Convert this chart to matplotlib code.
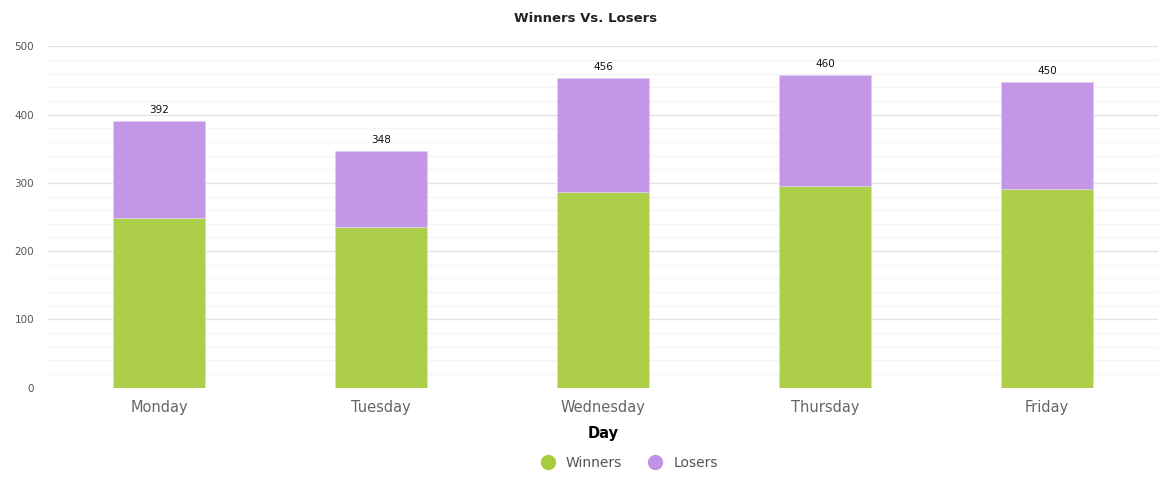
import matplotlib.pyplot as plt
from matplotlib.ticker import MultipleLocator
from matplotlib.lines import Line2D

# data
days = ["Monday", "Tuesday", "Wednesday", "Thursday", "Friday"]
winners = [248, 235, 286, 296, 291]
losers = [142, 111, 168, 162, 157]
totals = [392, 348, 456, 460, 450]

green = "#a9cc3f"
purple = "#c092e5"

fig = plt.figure(figsize=(11.68, 4.91), dpi=100)
ax = fig.add_axes([48/1168, 1-387.7/491, 1110/1168, (387.7-46.3)/491])

x = range(len(days))
ax.bar(x, winners, width=0.415, color=green, alpha=0.95, edgecolor="#d6ea9c", linewidth=0.6, zorder=3)
ax.bar(x, losers, bottom=winners, width=0.415, color=purple, alpha=0.95, edgecolor="#e2cdf4", linewidth=0.6, zorder=3)
for i, t in enumerate(totals):
    ax.text(i, t + 7, str(t), ha="center", va="bottom", fontsize=7.5, color="#111111")

ax.set_xlim(-0.5, len(days) - 0.5)
ax.set_ylim(0, 500)
ax.yaxis.set_major_locator(MultipleLocator(100))
ax.yaxis.set_minor_locator(MultipleLocator(20))
ax.grid(axis="y", which="major", color="#e4e4e4", linewidth=1, zorder=0)
ax.grid(axis="y", which="minor", color="#f4f4f4", linewidth=1, zorder=0)
for s in ax.spines.values():
    s.set_visible(False)
ax.tick_params(axis="both", which="both", length=0)
ax.tick_params(axis="y", labelsize=7.5, labelcolor="#555555", pad=10)
ax.tick_params(axis="x", labelsize=10.5, labelcolor="#666666", pad=9)
ax.set_xticks(list(x))
ax.set_xticklabels(days)
ax.set_xlabel("Day", fontsize=10.5, fontweight="bold", labelpad=8)

fig.text(586/1168, 1-18/491, "Winners Vs. Losers", ha="center", va="center", fontsize=9.5, fontweight="bold", color="#222222")

handles = [Line2D([], [], marker="o", linestyle="", markersize=10, color=green),
           Line2D([], [], marker="o", linestyle="", markersize=10, color=purple)]
fig.legend(handles, ["Winners", "Losers"], loc="center", bbox_to_anchor=(626/1168, 1-463/491),
           ncol=2, frameon=False, fontsize=10, labelcolor="#555555", handletextpad=0.3, columnspacing=1.4)

fig.savefig("out.png", dpi=100)
